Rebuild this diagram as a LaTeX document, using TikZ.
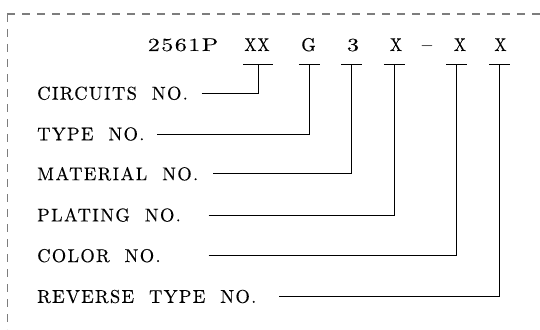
\documentclass[tikz,border=0pt]{standalone}
\usepackage{fontspec}
\newfontfamily\lmlabel[LetterSpace=7,FakeBold=0.2]{lmroman10-regular.otf}
\newfontfamily\lmwide[LetterSpace=8,FakeStretch=1.3,FakeBold=0.2]{lmroman10-regular.otf}
\newfontfamily\lmnarrow[LetterSpace=7,FakeStretch=0.85,FakeBold=0.2]{lmroman10-regular.otf}
\newcommand\cadsize{\fontsize{18.5pt}{21pt}\selectfont}
\definecolor{framegray}{RGB}{125,125,125}
\begin{document}
\begin{tikzpicture}[x=1pt,y=-1pt,
  lbl/.style={anchor=west,inner sep=0pt,font=\lmlabel\cadsize},
  code/.style={anchor=base,inner sep=0pt,font=\lmlabel\cadsize},
  wide/.style={font=\lmwide\cadsize},
  narrow/.style={font=\lmnarrow\cadsize},
  conn/.style={line width=0.8pt,black},
  frame/.style={line width=1.2pt,framegray,dash pattern=on 8pt off 7pt}]
\useasboundingbox (0,0) rectangle (540,329);
% frame
\coordinate (fc) at (7.3,14);
\coordinate (fb) at (7.3,329);
\coordinate (fr) at (540,14);
\draw[frame] (fc) -- (fb);
\draw[frame] (fc) -- (fr);
% code row
\node[code,wide] (p0) at (183,51) {2561P};
\node[code,narrow] (pXX) at (257,51) {XX};
\node[code] (pG) at (308.5,51) {G};
\node[code,wide] (p3) at (353,51) {3};
\node[code,narrow] (pX1) at (396,51) {X};
\node[code] (pdash) at (427,51) {$-$};
\node[code,narrow] (pX2) at (460,51) {X};
\node[code,narrow] (pX3) at (500.5,51) {X};
% T bar tops
\coordinate (tXX) at (258.3,64.3);
\coordinate (tG) at (309.3,64.3);
\coordinate (t3) at (351.7,64.3);
\coordinate (tX1) at (394.3,64.3);
\coordinate (tX2) at (456.7,64.3);
\coordinate (tX3) at (499.7,64.3);
\draw[conn] ([xshift=-15pt]tXX) -- ([xshift=15pt]tXX);
\foreach \t in {tG,t3,tX1,tX2,tX3}{
  \draw[conn] ([xshift=-10.5pt]\t) -- ([xshift=10.5pt]\t);
}
% labels
\node[lbl] (lC) at (37,93.3) {CIRCUITS~~NO.};
\node[lbl] (lT) at (37,134) {TYPE~~NO.};
\node[lbl] (lM) at (37,173.8) {MATERIAL~~NO.};
\node[lbl] (lP) at (37,215) {PLATING~~NO.};
\node[lbl] (lCo) at (37,255.7) {COLOR~~NO.};
\node[lbl] (lR) at (37,296.5) {REVERSE~~TYPE~~NO.};
% connector starts
\coordinate (sC) at (201.7,93.3);
\coordinate (sT) at (157,134);
\coordinate (sM) at (213,173.8);
\coordinate (sP) at (208.6,215);
\coordinate (sCo) at (208.6,255.7);
\coordinate (sR) at (279,296.5);
\draw[conn] (sC) -| (tXX);
\draw[conn] (sT) -| (tG);
\draw[conn] (sM) -| (t3);
\draw[conn] (sP) -| (tX1);
\draw[conn] (sCo) -| (tX2);
\draw[conn] (sR) -| (tX3);
\end{tikzpicture}
\end{document}
